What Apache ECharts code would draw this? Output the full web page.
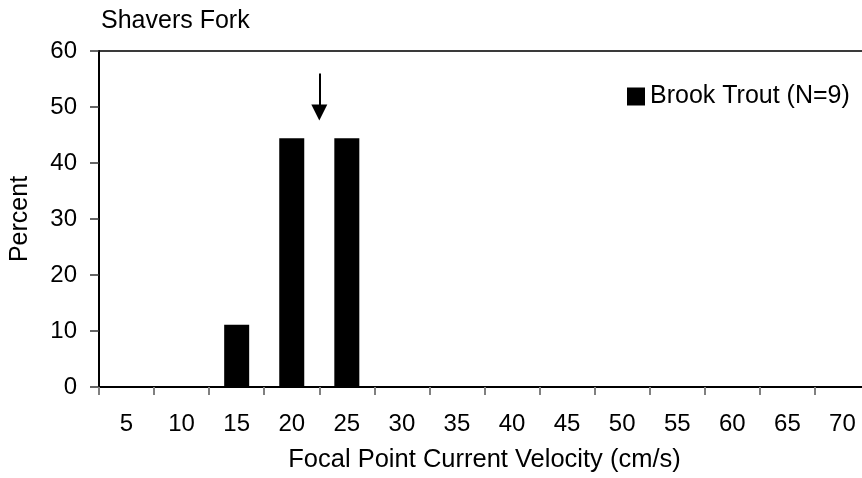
<!DOCTYPE html>
<html>
<head>
<meta charset="utf-8">
<script src="https://cdn.jsdelivr.net/npm/echarts@6/dist/echarts.min.js"></script>
<style>
html,body{margin:0;padding:0;background:#fff;overflow:hidden;}
#chart{width:880px;height:478px;}
</style>
</head>
<body>
<div id="chart"></div>
<script>
const categories = ['5','10','15','20','25','30','35','40','45','50','55','60','65','70'];
const brookTrout = [0,0,11.1,44.4,44.4,0,0,0,0,0,0,0,0,0];
const yTicks = [0,10,20,30,40,50,60];
const arrowX = 22.5;      // mean velocity (cm/s)
const arrowFrom = 56;
const arrowTo = 49;

const FONT = 'Liberation Sans, Arial, sans-serif';
const FS = 25;
const FS_TICK = 24;

const chart = echarts.init(document.getElementById('chart'), null, {renderer:'canvas'});
chart.setOption({
  animation: false,
  backgroundColor: '#ffffff',
  title: {
    text: 'Shavers Fork',
    left: 96, top: 4,
    textStyle: {fontFamily: FONT, fontSize: FS, fontWeight: 'normal', color: '#000'}
  },
  legend: {
    data: ['Brook Trout (N=9)'],
    left: 622, top: 79,
    itemWidth: 18, itemHeight: 18,
    icon: 'rect',
    textStyle: {fontFamily: FONT, fontSize: FS, color: '#000'}
  },
  grid: {
    left: 99, top: 51, width: 771, height: 337,
    show: true, borderColor: '#3a3a3a', borderWidth: 2,
    containLabel: false
  },
  xAxis: [{
    type: 'category',
    data: categories,
    boundaryGap: true,
    name: 'Focal Point Current Velocity (cm/s)',
    nameLocation: 'middle',
    nameGap: 60,
    nameTextStyle: {fontFamily: FONT, fontSize: 25.5, color: '#000'},
    axisLine: {lineStyle: {color: '#000', width: 2}},
    axisTick: {show: true, interval: 0, length: 8, lineStyle: {color: '#808080', width: 2}},
    axisLabel: {interval: 0, margin: 25, fontFamily: FONT, fontSize: FS_TICK, color: '#000'},
    splitLine: {show: false}
  }, {
    type: 'value',
    min: 2.5, max: 72.5,
    show: false
  }],
  yAxis: {
    type: 'value',
    min: yTicks[0], max: yTicks[yTicks.length-1], interval: 10,
    name: 'Percent',
    nameLocation: 'middle',
    nameGap: 66,
    nameTextStyle: {fontFamily: FONT, fontSize: FS, color: '#000'},
    axisLine: {show: true, lineStyle: {color: '#000', width: 2}},
    axisTick: {show: true, length: 9, lineStyle: {color: '#333', width: 1.5}},
    axisLabel: {margin: 22, fontFamily: FONT, fontSize: FS_TICK, color: '#000'},
    splitLine: {show: false}
  },
  series: [{
    name: 'Brook Trout (N=9)',
    type: 'bar',
    data: brookTrout,
    barWidth: 25,
    itemStyle: {color: '#000'}
  }, {
    name: 'arrow',
    type: 'line',
    xAxisIndex: 1,
    data: [],
    silent: true,
    markLine: {
      silent: true,
      symbol: ['none', 'triangle'],
      symbolSize: [16, 16],
      label: {show: false},
      lineStyle: {color: '#000', width: 2, type: 'solid'},
      data: [[{coord: [arrowX, arrowFrom]}, {coord: [arrowX, arrowTo]}]]
    }
  }]
});
</script>
</body>
</html>
